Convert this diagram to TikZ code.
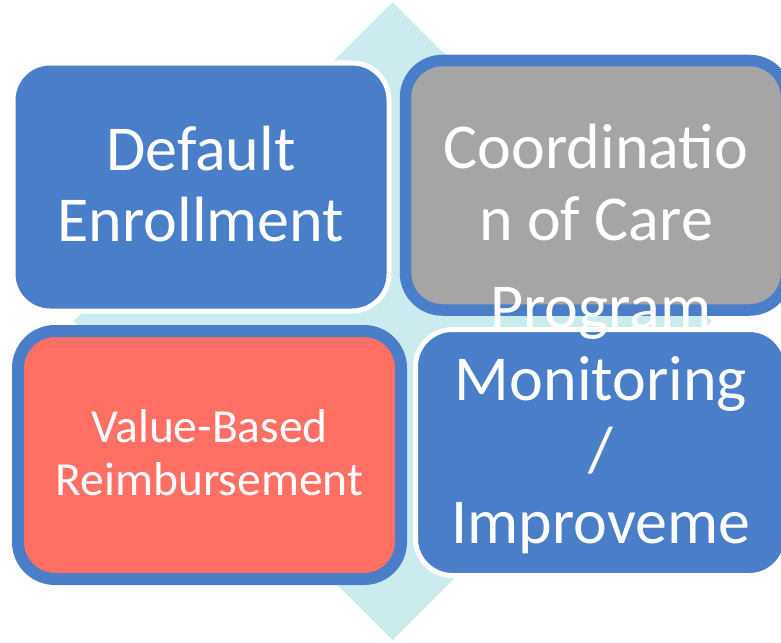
\documentclass[tikz,border=0pt]{standalone}
\usepackage{fontspec}
\setmainfont{Carlito}
\definecolor{boxblue}{HTML}{4A7EC8}
\definecolor{boxgray}{HTML}{A5A5A5}
\definecolor{boxred}{HTML}{FF6F64}
\definecolor{paleCyan}{HTML}{CCEBEF}
\newcommand\mystrut{\rule[-0.25em]{0pt}{1.1em}}
\begin{document}
\begin{tikzpicture}[x=1pt,y=-1pt,
  boxshape/.style={rectangle, rounded corners=37pt, inner sep=0pt, outer sep=0pt},
  whiteframe/.style={boxshape, draw=white, line width=5pt, fill=boxblue},
  blueframe/.style={boxshape, draw=boxblue, line width=12pt},
  bigtext/.style={text=white, align=center, inner sep=0pt, font=\fontsize{64}{70.3}\selectfont},
  smalltext/.style={text=white, align=center, inner sep=0pt, font=\fontsize{47.5}{52.2}\selectfont}]
\useasboundingbox (0,0) rectangle (781,642);
% background diamond
\fill[paleCyan] (392.5,2) -- (711.5,321) -- (392.5,640) -- (73.5,321) -- cycle;
% boxes
\node[whiteframe, minimum width=376pt, minimum height=248pt] (tl) at (201,187) {};
\node[blueframe, fill=boxgray, line width=11.5pt, minimum width=381pt, minimum height=249.5pt] (tr) at (596,185.25) {};
\node[blueframe, fill=boxred, minimum width=383pt, minimum height=248pt] (bl) at (209.5,455) {};
\node[whiteframe, minimum width=371pt, minimum height=246pt] (br) at (601,452.5) {};
% texts
\node[bigtext] (tltext) at (tl.center) {\mystrut Default\\\mystrut Enrollment};
\node[bigtext] (trtext) at (tr.center) {\mystrut Coordinatio\\\mystrut n of Care};
\node[smalltext] (bltext) at (bl.center) {\mystrut Value-Based\\\mystrut Reimbursement};
\node[bigtext] (brtext) at (br.center) {\mystrut Program\\\mystrut Monitoring\\\mystrut /\\\mystrut Improveme\\\mystrut nt};
\end{tikzpicture}
\end{document}
